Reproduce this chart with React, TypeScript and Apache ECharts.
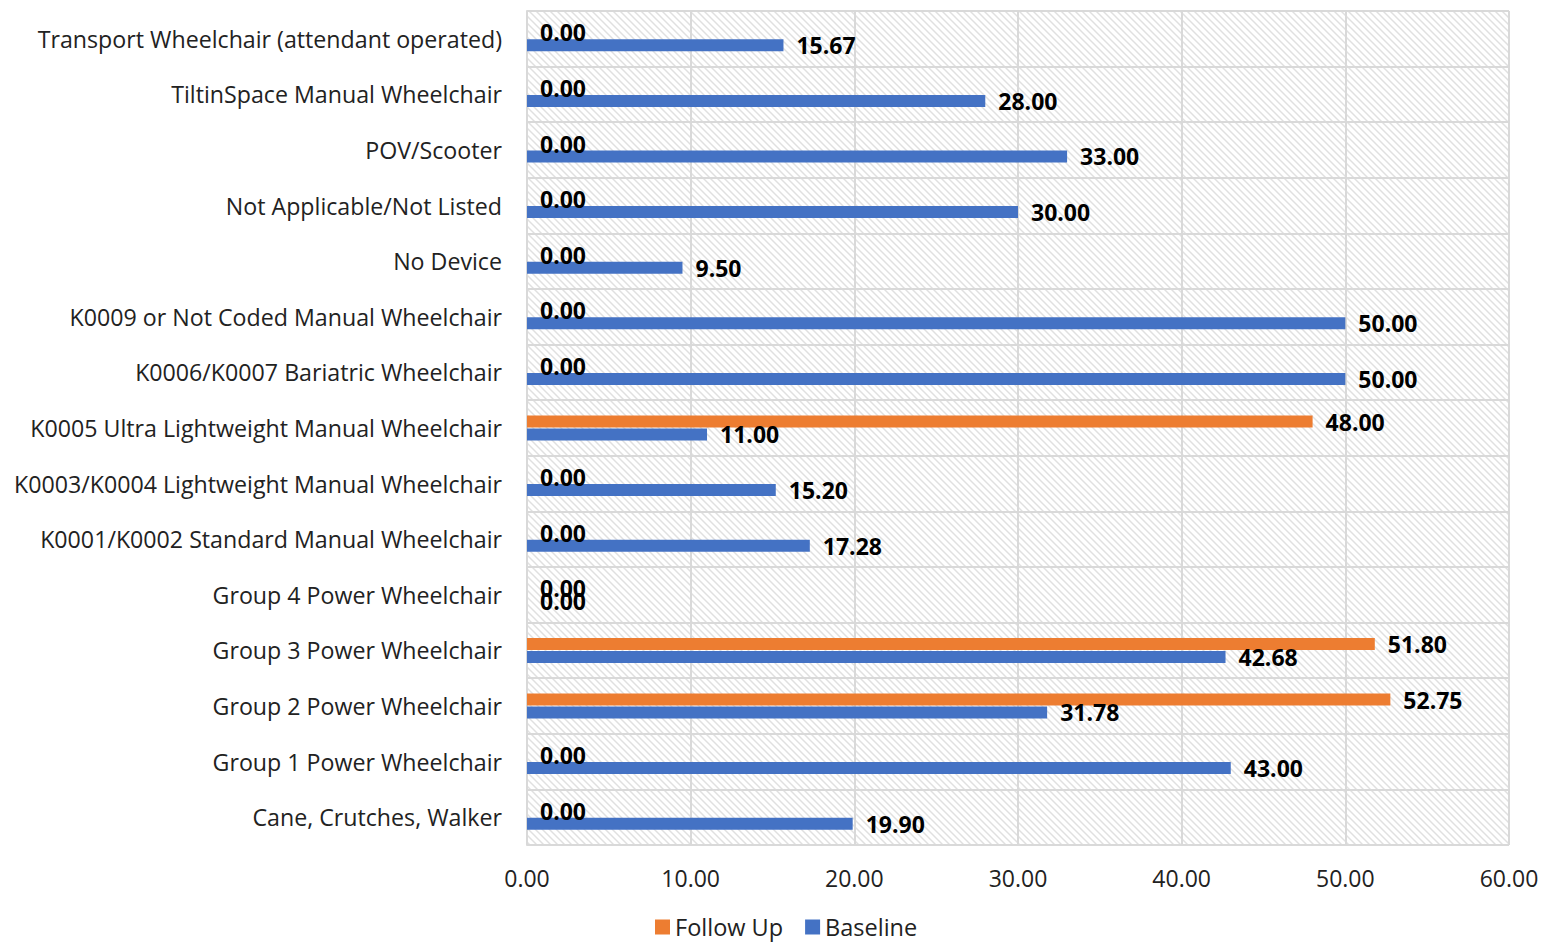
import React, { useEffect, useRef } from "react";
import * as echarts from "echarts";

const categories = [
  "Cane, Crutches, Walker",
  "Group 1 Power Wheelchair",
  "Group 2 Power Wheelchair",
  "Group 3 Power Wheelchair",
  "Group 4 Power Wheelchair",
  "K0001/K0002 Standard Manual Wheelchair",
  "K0003/K0004 Lightweight Manual Wheelchair",
  "K0005 Ultra Lightweight Manual Wheelchair",
  "K0006/K0007 Bariatric Wheelchair",
  "K0009 or Not Coded Manual Wheelchair",
  "No Device",
  "Not Applicable/Not Listed",
  "POV/Scooter",
  "TiltinSpace Manual Wheelchair",
  "Transport Wheelchair (attendant operated)",
];

const baseline = [19.9, 43.0, 31.78, 42.68, 0, 17.28, 15.2, 11.0, 50.0, 50.0, 9.5, 30.0, 33.0, 28.0, 15.67];
const followUp = [0, 0, 52.75, 51.8, 0, 0, 0, 48.0, 0, 0, 0, 0, 0, 0, 0];

const xTicks = { min: 0, max: 60, interval: 10 };

const hatchSvg =
  "<svg xmlns='http://www.w3.org/2000/svg' width='7' height='7'>" +
  "<path d='M0,0 L7,7 M-3.5,3.5 L3.5,10.5 M3.5,-3.5 L10.5,3.5' stroke='%23e0e0e0' stroke-width='1.5'/></svg>";
const hatchUrl = "data:image/svg+xml;utf8," + hatchSvg;

export default function App() {
  const ref = useRef<HTMLDivElement>(null);
  useEffect(() => {
    if (!ref.current) return;
    const chart = echarts.init(ref.current, null, { renderer: "svg" });
    const font = "'Open Sans', sans-serif";
    const labelCfg = {
      show: true,
      position: "right",
      distance: 13,
      fontFamily: font,
      fontSize: 23,
      fontWeight: "bold",
      color: "#000",
      formatter: (p: any) => Number(p.value).toFixed(2),
    };
    chart.setOption({
      animation: false,
      backgroundColor: "#fff",
      grid: {
        left: 527,
        right: 34,
        top: 11,
        bottom: 97,
        show: true,
        borderWidth: 0,
        backgroundColor: { image: hatchUrl, repeat: "repeat" },
      },
      legend: {
        data: ["Follow Up", "Baseline"],
        bottom: -2,
        left: 650,
        itemWidth: 15,
        itemHeight: 15,
        itemGap: 22,
        icon: "rect",
        textStyle: { fontFamily: font, fontSize: 23.5, color: "#222" },
      },
      xAxis: {
        type: "value",
        min: xTicks.min,
        max: xTicks.max,
        interval: xTicks.interval,
        axisLine: { show: false },
        axisTick: { show: false },
        splitLine: { lineStyle: { color: "#d9d9d9", width: 2 } },
        axisLabel: {
          fontFamily: font,
          fontSize: 23,
          color: "#222",
          margin: 21,
          formatter: (v: number) => v.toFixed(2),
        },
      },
      yAxis: {
        type: "category",
        data: categories,
        axisLine: { show: true, lineStyle: { color: "#d9d9d9", width: 2 } },
        axisTick: { show: false },
        splitLine: { show: true, lineStyle: { color: "#d9d9d9", width: 2 } },
        axisLabel: {
          fontFamily: font,
          fontSize: 23.2,
          color: "#222",
          margin: 25,
        },
      },
      series: [
        {
          name: "Follow Up",
          type: "bar",
          data: followUp,
          barWidth: 12,
          barGap: "8%",
          itemStyle: { color: "#ed7d31" },
          label: labelCfg,
        },
        {
          name: "Baseline",
          type: "bar",
          data: baseline,
          barWidth: 12,
          barGap: "8%",
          itemStyle: { color: "#4472c4" },
          label: labelCfg,
        },
      ],
    });
    return () => chart.dispose();
  }, []);
  return (
    <div
      ref={ref}
      style={{ position: "fixed", left: 0, top: 0, width: 1543, height: 942 }}
    />
  );
}
